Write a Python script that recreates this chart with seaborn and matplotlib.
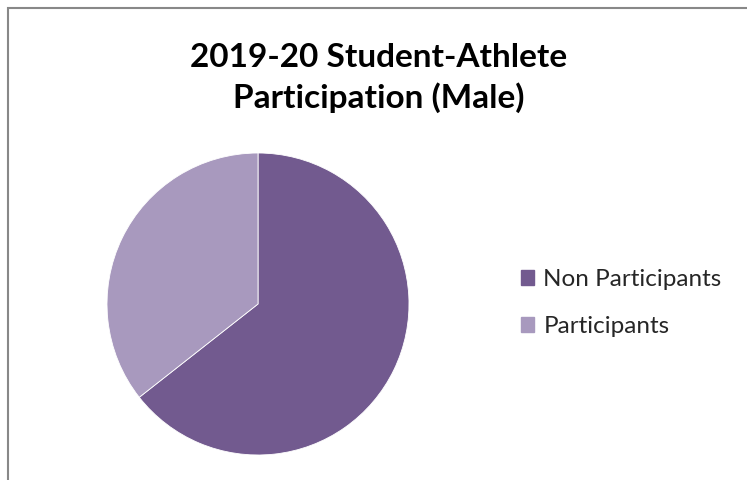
import matplotlib
matplotlib.use("Agg")
import matplotlib.pyplot as plt
import matplotlib.patches as mpatches
import seaborn as sns

# data
categories = ["Non Participants", "Participants"]
shares = [64.4, 35.6]
colors = ["#725A8F", "#A899BE"]

sns.set_theme(style="white")
plt.rcParams["font.family"] = ["Lato", "DejaVu Sans"]
palette = sns.color_palette(colors)

fig = plt.figure(figsize=(7.47, 4.80), dpi=100)

# pie axes, placed by hand so the circle sits where it does in the reference
ax = fig.add_axes([107 / 747, 25 / 480, 302 / 747, 302 / 480])
wedges, _ = ax.pie(shares, colors=palette, startangle=90, counterclock=False,
                   radius=1.0, wedgeprops=dict(linewidth=0.6, edgecolor="white"))
ax.set_xlim(-1, 1)
ax.set_ylim(-1, 1)
ax.set_aspect("equal")
ax.axis("off")

fig.text(0.507, 1 - 78 / 480, "2019-20 Student-Athlete\nParticipation (Male)",
         ha="center", va="center", fontsize=24, fontweight="bold",
         linespacing=1.42, color="black")

handles = [mpatches.Patch(color=c, label=l) for c, l in zip(palette, categories)]
fig.legend(handles=handles, loc="center left",
           bbox_to_anchor=(521 / 747, 1 - 303 / 480), frameon=False,
           fontsize=17.5, handlelength=0.55, handleheight=0.55,
           handletextpad=0.37, labelspacing=1.08, borderpad=0,
           borderaxespad=0)

# chart frame (left and top edges visible, the rest is cut off)
frame = mpatches.Rectangle((8 / 747, -0.1), 1.2, 1 - 8 / 480 + 0.1,
                           transform=fig.transFigure, fill=False,
                           edgecolor="#888888", linewidth=1.5)
fig.add_artist(frame)

fig.savefig("out.png", dpi=100)
